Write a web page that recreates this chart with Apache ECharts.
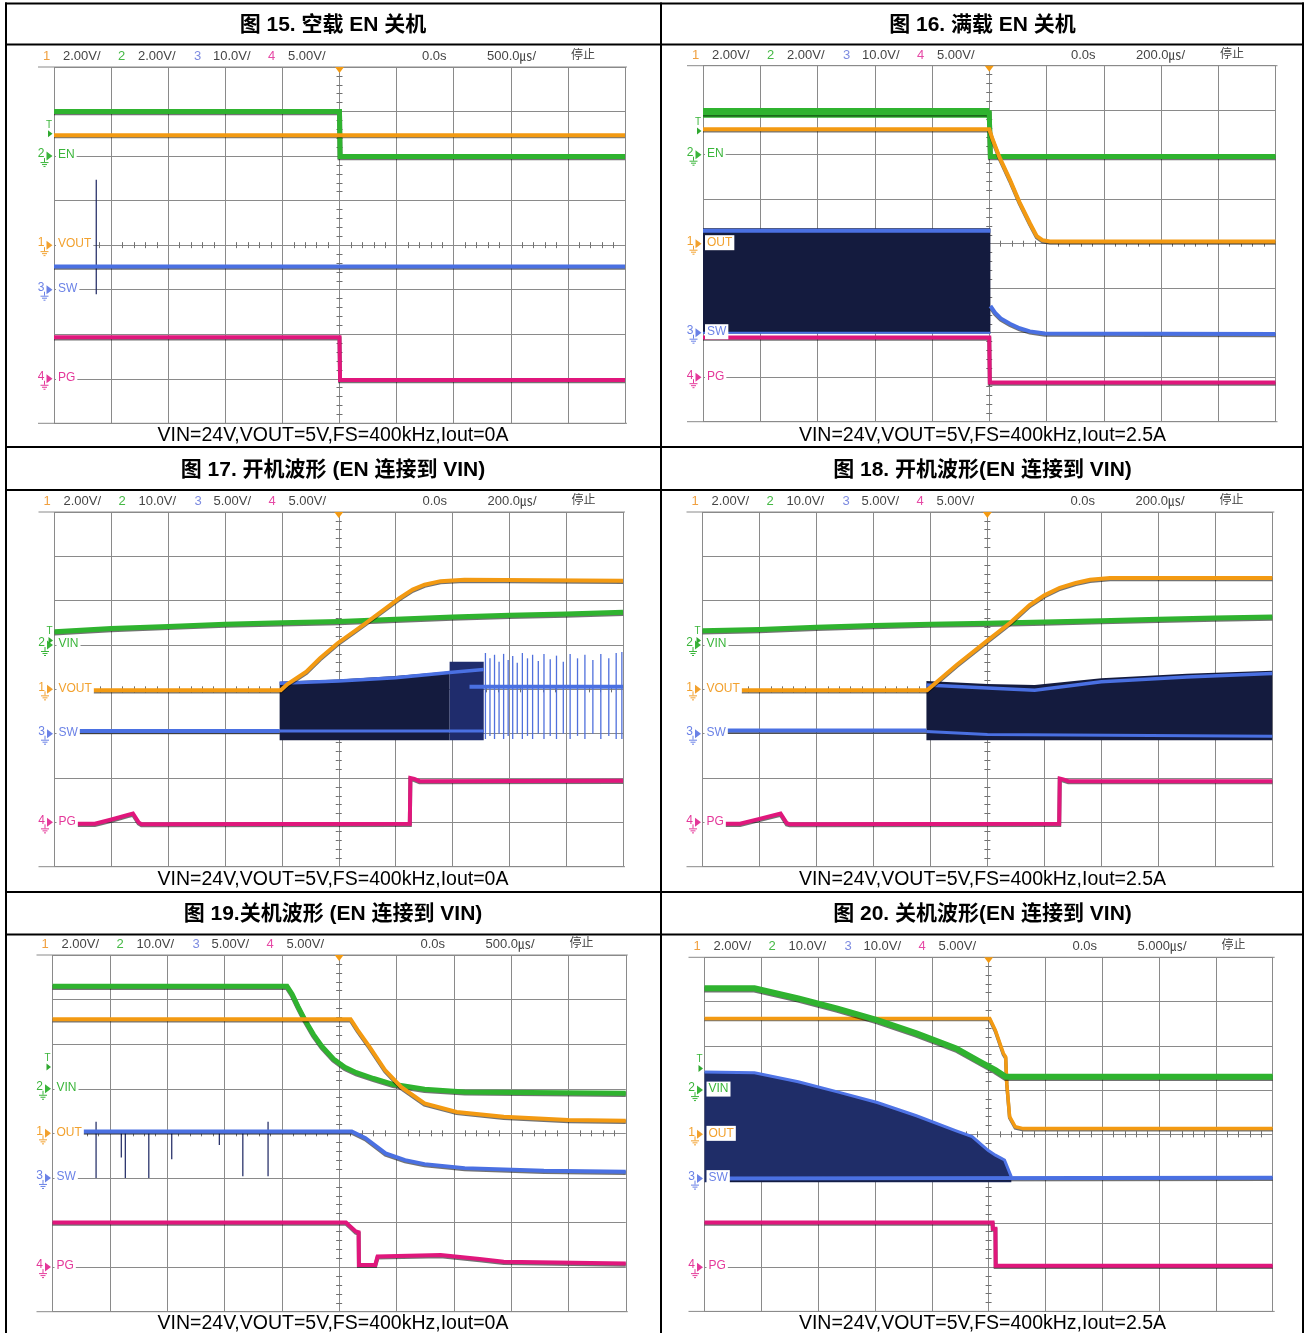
<!DOCTYPE html>
<html><head><meta charset="utf-8">
<script src="https://cdn.jsdelivr.net/npm/echarts@6/dist/echarts.min.js"></script>
<style>html,body{margin:0;padding:0;background:#fff}#c{width:1306px;height:1333px}</style>
</head><body><div id="c"></div>
<script>
// ---------------- text content ----------------
const titles = ['图 15. 空载 EN 关机','图 16. 满载 EN 关机','图 17. 开机波形 (EN 连接到 VIN)','图 18. 开机波形(EN 连接到 VIN)','图 19.关机波形 (EN 连接到 VIN)','图 20. 关机波形(EN 连接到 VIN)'];
const captions = ['VIN=24V,VOUT=5V,FS=400kHz,Iout=0A','VIN=24V,VOUT=5V,FS=400kHz,Iout=2.5A','VIN=24V,VOUT=5V,FS=400kHz,Iout=0A','VIN=24V,VOUT=5V,FS=400kHz,Iout=2.5A','VIN=24V,VOUT=5V,FS=400kHz,Iout=0A','VIN=24V,VOUT=5V,FS=400kHz,Iout=2.5A'];
const chNums = ['1','2','3','4'];
const p15_scale = ['2.00V/','2.00V/','10.0V/','5.00V/'], p15_time = ['0.0s','500.0㎲/','停止'];
const p16_scale = ['2.00V/','2.00V/','10.0V/','5.00V/'], p16_time = ['0.0s','200.0㎲/','停止'];
const p17_scale = ['2.00V/','10.0V/','5.00V/','5.00V/'], p17_time = ['0.0s','200.0㎲/','停止'];
const p18_scale = ['2.00V/','10.0V/','5.00V/','5.00V/'], p18_time = ['0.0s','200.0㎲/','停止'];
const p19_scale = ['2.00V/','10.0V/','5.00V/','5.00V/'], p19_time = ['0.0s','500.0㎲/','停止'];
const p20_scale = ['2.00V/','10.0V/','10.0V/','5.00V/'], p20_time = ['0.0s','5.000㎲/','停止'];

// channel markers (division units, 0 = screen centre)
const p15_markY = [2,0,-1,-3], p15_markT = ['EN','VOUT','SW','PG'], p15_markCh = [2,1,3,4], p15_trigY = 2.5;
const p16_markY = [2,0,-2,-3], p16_markT = ['EN','OUT','SW','PG'], p16_markCh = [2,1,3,4], p16_trigY = 2.53;
const p17_markY = [1,0,-1,-3], p17_markT = ['VIN','VOUT','SW','PG'], p17_markCh = [2,1,3,4], p17_trigY = 1.1;
const p18_markY = [1,0,-1,-3], p18_markT = ['VIN','VOUT','SW','PG'], p18_markCh = [2,1,3,4], p18_trigY = 1.1;
const p19_markY = [1,0,-1,-3], p19_markT = ['VIN','OUT','SW','PG'], p19_markCh = [2,1,3,4], p19_trigY = 1.49;
const p20_markY = [1,0,-1,-3], p20_markT = ['VIN','OUT','SW','PG'], p20_markCh = [2,1,3,4], p20_trigY = 1.49;

// ---------------- waveform data [div x, div y] ----------------
// Fig 15
const p15_en   = [[-5,3.0],[0,3.0],[0.01,1.99],[5,1.99]];
const p15_vout = [[-5,2.47],[5,2.47]];
const p15_sw   = [[-5,-0.48],[5,-0.48]];
const p15_pg   = [[-5,-2.07],[0,-2.07],[0.01,-3.03],[5,-3.03]];
const p15_swSpike = [[-4.26,-1.10,1.47]];
// Fig 16
const p16_enRipple = [[-5,2.83,3.05],[0,2.83,3.05]];
const p16_en   = [[-5,2.94],[0,2.94],[0.02,1.96],[5,1.96]];
const p16_vout = [[-5,2.57],[0,2.57],[0.06,2.34],[0.18,1.94],[0.36,1.44],[0.53,0.93],[0.71,0.46],[0.83,0.17],[0.93,0.08],[1.06,0.05],[5,0.05]];
const p16_band = [[-5,-2.02,0.35],[0.02,-2.02,0.35]];
const p16_swTop = [[-5,0.29],[0.02,0.29]];
const p16_swBot = [[-5,-2.0],[0.02,-2.0]];
const p16_swAfter = [[0.02,-1.40],[0.1,-1.55],[0.2,-1.68],[0.36,-1.80],[0.53,-1.90],[0.71,-1.97],[0.97,-2.02],[5,-2.03]];
const p16_pg   = [[-5,-2.11],[0,-2.11],[0.01,-3.12],[5,-3.12]];
// Fig 17
const p17_vin  = [[-5,1.30],[-4,1.37],[-3,1.42],[-2,1.47],[-1,1.50],[0,1.53],[1,1.58],[2,1.63],[3,1.67],[4,1.70],[5,1.74]];
const p17_vout = [[-4.36,-0.02],[-1.02,-0.02],[-0.9,0.12],[-0.57,0.40],[-0.33,0.70],[-0.02,1.04],[0.47,1.49],[1.06,2.05],[1.3,2.25],[1.51,2.36],[1.79,2.44],[2.21,2.47],[5,2.45]];
const p17_swFlat = [[-4.63,-0.94],[-1.04,-0.94]];
const p17_band  = [[-1.04,-1.15,0.17],[0,-1.15,0.22],[1,-1.15,0.30],[1.95,-1.15,0.40]];
const p17_band2 = [[1.95,-1.15,0.62],[2.55,-1.15,0.62]];
const p17_swTop = [[-1.04,0.14],[0,0.19],[1,0.26],[1.95,0.38],[2.55,0.45]];
const p17_swBot = [[-1.04,-0.94],[2.55,-0.94]];
const p17_swRight = [[2.3,0.06],[5,0.06]];
const p17_spikes = [[2.58,-1.12,0.82],[2.66,-1.05,0.70],[2.74,-1.12,0.78],[2.82,-1.0,0.62],[2.90,-1.12,0.80],[2.98,-1.05,0.66],[3.06,-1.12,0.75],[3.14,-1.0,0.60],[3.23,-1.12,0.82],[3.32,-1.05,0.70],[3.41,-1.12,0.78],[3.51,-1.0,0.64],[3.61,-1.12,0.80],[3.72,-1.05,0.68],[3.83,-1.12,0.76],[3.95,-1.0,0.62],[4.07,-1.12,0.80],[4.20,-1.05,0.70],[4.33,-1.12,0.78],[4.47,-1.0,0.66],[4.61,-1.12,0.80],[4.75,-1.05,0.70],[4.88,-1.12,0.82],[4.98,-1.12,0.84]];
const p17_pg = [[-4.63,-3.03],[-4.29,-3.03],[-3.98,-2.93],[-3.71,-2.83],[-3.62,-2.80],[-3.52,-3.0],[-3.47,-3.04],[1.25,-3.03],[1.26,-2.0],[1.33,-2.02],[1.42,-2.07],[5,-2.06]];
// Fig 18
const p18_vin  = [[-5,1.32],[-4,1.35],[-3,1.40],[-2,1.44],[-1,1.47],[0,1.49],[1,1.52],[2,1.55],[3,1.58],[4,1.61],[5,1.63]];
const p18_vout = [[-4.36,-0.02],[-1.06,-0.02],[-0.95,0.10],[-0.54,0.55],[0.01,1.11],[0.4,1.5],[0.74,1.90],[1.0,2.12],[1.27,2.29],[1.55,2.40],[1.80,2.47],[2.15,2.51],[5,2.51]];
const p18_swFlat = [[-4.63,-0.93],[-1.07,-0.93]];
const p18_band = [[-1.07,-1.15,0.19],[0,-1.15,0.12],[0.83,-1.15,0.10],[2.0,-1.15,0.25],[3.5,-1.15,0.35],[5,-1.15,0.42]];
const p18_swTop = [[-1.07,0.10],[0,0.03],[0.83,-0.02],[2.0,0.17],[3.5,0.28],[5,0.36]];
const p18_swBot = [[-1.07,-0.95],[0,-1.02],[5,-1.06]];
const p18_pg = [[-4.63,-3.03],[-4.34,-3.03],[-4.0,-2.92],[-3.63,-2.80],[-3.52,-3.02],[-3.47,-3.04],[1.26,-3.03],[1.27,-2.01],[1.33,-2.03],[1.42,-2.07],[5,-2.07]];
// Fig 19
const p19_vin  = [[-5,3.30],[-0.91,3.30],[-0.82,3.12],[-0.72,2.85],[-0.60,2.55],[-0.45,2.22],[-0.30,1.95],[-0.1,1.67],[0.1,1.48],[0.3,1.36],[0.6,1.23],[0.94,1.10],[1.49,0.99],[2.19,0.93],[5,0.90]];
const p19_vout = [[-5,2.56],[0.2,2.56],[0.32,2.32],[0.53,1.94],[0.80,1.42],[1.08,1.04],[1.49,0.67],[2.05,0.48],[2.87,0.37],[4,0.30],[5,0.28]];
const p19_sw   = [[-4.5,0.04],[0.22,0.04],[0.46,-0.11],[0.81,-0.45],[1.15,-0.60],[1.49,-0.69],[2.19,-0.78],[3.57,-0.84],[5,-0.86]];
const p19_swSpikes = [[-4.24,-1.0,0.26],[-3.80,-0.54,0.04],[-3.73,-1.0,0.04],[-3.32,-1.0,0.04],[-2.92,-0.58,0.04],[-2.09,-0.26,0.04],[-1.68,-0.96,0.04],[-1.24,-0.96,0.26]];
const p19_pg   = [[-5,-2.0],[0.12,-2.0],[0.18,-2.07],[0.29,-2.2],[0.34,-2.22],[0.345,-2.95],[0.63,-2.95],[0.67,-2.76],[1.77,-2.73],[2.45,-2.82],[2.87,-2.88],[5,-2.92]];
// Fig 20
const p20_vin  = [[-5,3.30],[-4.12,3.30],[-3.35,3.07],[-2.66,2.84],[-1.96,2.58],[-1.27,2.28],[-0.57,1.94],[-0.15,1.64],[0.12,1.45],[0.30,1.30],[5,1.30]];
const p20_vout = [[-5,2.62],[0.02,2.62],[0.12,2.35],[0.26,1.83],[0.30,1.75],[0.32,1.15],[0.37,0.40],[0.47,0.17],[0.61,0.13],[5,0.13]];
const p20_band = [[-5,-1.08,1.41],[-4.12,-1.08,1.39],[-3.35,-1.08,1.19],[-2.66,-1.08,0.96],[-1.96,-1.08,0.72],[-1.27,-1.08,0.42],[-0.57,-1.08,0.08],[-0.29,-1.08,-0.05],[-0.01,-1.08,-0.36],[0.12,-1.08,-0.47],[0.28,-1.08,-0.58],[0.40,-1.08,-0.96]];
const p20_swTop = [[-5,1.41],[-4.12,1.39],[-3.35,1.19],[-2.66,0.96],[-1.96,0.72],[-1.27,0.42],[-0.57,0.08],[-0.29,-0.05],[-0.01,-0.36],[0.12,-0.47],[0.28,-0.58],[0.40,-0.96]];
const p20_swBot = [[-4.66,-1.0],[5,-0.98]];
const p20_pg   = [[-5,-1.99],[0.07,-1.99],[0.075,-2.13],[0.12,-2.13],[0.125,-2.97],[5,-2.97]];

// ---------------- styling / layout ----------------
const ORANGE='#f39a12', GREEN='#2fb32f', BLUE='#4a70e2', PINK='#e0177c';
const CH_TEXT = ['#f2a12e','#3ab53a','#6b82e6','#e4389a'];
const HEAD_NUM = ['#f0a040','#44b844','#7d8be0','#e64aa6'];
const NAVY='#141b3e', NAVY2='#1f2d68', GRIDC='#8a8a8a';
const LAYOUT = [
  {gl:54,   gr:625,    gt:67,    gb:423.3,  head:56,  cap:436,  title:25,  cx:333},
  {gl:703,  gr:1275.5, gt:65.7,  gb:421.7,  head:55,  cap:436,  title:25,  cx:982.5},
  {gl:54.5, gr:623,    gt:512,   gb:866.7,  head:501, cap:880,  title:470, cx:333},
  {gl:702.5,gr:1272.3, gt:512,   gb:866.7,  head:501, cap:880,  title:470, cx:982.5},
  {gl:52.5, gr:625.8,  gt:955,   gb:1311.7, head:944, cap:1324, title:914, cx:333},
  {gl:704.5,gr:1272.7, gt:957.3, gb:1311.4, head:946, cap:1324, title:914, cx:982.5}
];
const HEAD_DX = [-11, 9, 64, 84, 140, 159, 214, 234, 368, 433, 517];
const scales = [p15_scale,p16_scale,p17_scale,p18_scale,p19_scale,p20_scale];
const times  = [p15_time,p16_time,p17_time,p18_time,p19_time,p20_time];
const FONT = '"Liberation Sans", "Noto Sans CJK SC", sans-serif';

// ---------------- axes ----------------
const xAxis=[], yAxis=[], grid=[];
LAYOUT.forEach((L,i)=>{
  grid.push({left:L.gl, top:L.gt, width:L.gr-L.gl, height:L.gb-L.gt, containLabel:false, show:false});
  const bx = {gridIndex:i, type:'value', min:-5, max:5, interval:1, axisLabel:{show:false}, axisTick:{show:false}};
  const by = {gridIndex:i, type:'value', min:-4, max:4, interval:1, axisLabel:{show:false}, axisTick:{show:false}};
  const minor = {show:true, splitNumber:5, length:3, lineStyle:{color:'#707070', width:1}};
  xAxis.push(Object.assign({}, bx, {axisLine:{show:false,onZero:false}, splitLine:{show:true, lineStyle:{color:GRIDC,width:1}}}));
  xAxis.push(Object.assign({}, bx, {position:'bottom', axisLine:{show:false,onZero:true,onZeroAxisIndex:3*i}, splitLine:{show:false}, minorTick:minor}));
  xAxis.push(Object.assign({}, bx, {position:'top', axisLine:{show:false,onZero:true,onZeroAxisIndex:3*i}, splitLine:{show:false}, minorTick:minor}));
  yAxis.push(Object.assign({}, by, {axisLine:{show:false,onZero:false}, splitLine:{show:true, lineStyle:{color:GRIDC,width:1}}}));
  yAxis.push(Object.assign({}, by, {position:'left', axisLine:{show:false,onZero:true,onZeroAxisIndex:3*i}, splitLine:{show:false}, minorTick:minor}));
  yAxis.push(Object.assign({}, by, {position:'right', axisLine:{show:false,onZero:true,onZeroAxisIndex:3*i}, splitLine:{show:false}, minorTick:minor}));
});

// ---------------- series helpers ----------------
const S = [];
const ax = i => ({xAxisIndex:3*i, yAxisIndex:3*i});
function addLine(i, data, color, width, shadow){
  S.push(Object.assign({type:'line', data, symbol:'none', showSymbol:false, silent:true, z:3,
    lineStyle:{color, width, cap:'butt', join:'miter', shadowColor: shadow===false?'rgba(0,0,0,0)':'rgba(0,0,0,0.55)', shadowBlur:0, shadowOffsetY:1.2}}, ax(i)));
}
function addBand(i, band, color){
  S.push(Object.assign({type:'custom', data:band, encode:{x:0,y:[1,2]}, silent:true, z:2,
    renderItem:(params, api)=>{
      if (params.dataIndex!==0) return;
      const top = band.map(d=>api.coord([d[0],d[2]]));
      const bot = band.map(d=>api.coord([d[0],d[1]])).reverse();
      return {type:'polygon', shape:{points:top.concat(bot)}, style:{fill:color}};
    }}, ax(i)));
}
function addSpikes(i, spikes, color, width){
  S.push(Object.assign({type:'custom', data:spikes, encode:{x:0,y:[1,2]}, silent:true, z:3,
    renderItem:(params, api)=>{
      const a=api.coord([api.value(0),api.value(1)]), b=api.coord([api.value(0),api.value(2)]);
      return {type:'line', shape:{x1:a[0],y1:a[1],x2:b[0],y2:b[1]}, style:{stroke:color, lineWidth:width}};
    }}, ax(i)));
}
function markerGroup(x0, y, ch, text){
  const col = CH_TEXT[ch-1];
  const ln = (x1,y1,x2,y2)=>({type:'line', shape:{x1,y1,x2,y2}, style:{stroke:col,lineWidth:1}});
  return {type:'group', children:[
    {type:'text', x:x0-13, y:y-2, style:{text:String(ch), fill:col, font:'12px '+FONT, align:'center', verticalAlign:'middle'}},
    ln(x0-9.5,y+2,x0-9.5,y+6), ln(x0-13.5,y+6.5,x0-5.5,y+6.5), ln(x0-12,y+8.5,x0-7,y+8.5), ln(x0-10.5,y+10.5,x0-8.5,y+10.5),
    {type:'polygon', shape:{points:[[x0-7.5,y-4.5],[x0-1.5,y],[x0-7.5,y+4.5]]}, style:{fill:col}},
    {type:'text', x:x0+2, y:y-1, style:{text, fill:col, font:'12px '+FONT, align:'left', verticalAlign:'middle', backgroundColor:'#fff', padding:[2,2,1,2]}}
  ]};
}
function addMarkers(i, ys, texts, chs, trigY){
  S.push(Object.assign({type:'custom', data:ys.map(y=>[-5,y]), clip:false, silent:true, z:10,
    renderItem:(params, api)=>{
      const k=params.dataIndex, p=api.coord([api.value(0),api.value(1)]);
      return markerGroup(p[0], p[1], chs[k], texts[k]);
    }}, ax(i)));
  S.push(Object.assign({type:'custom', data:[[-5,trigY]], clip:false, silent:true, z:10,
    renderItem:(params, api)=>{
      const p=api.coord([api.value(0),api.value(1)]), t=api.coord([0,4]);
      return {type:'group', children:[
        {type:'text', x:p[0]-5, y:p[1]-9, style:{text:'T', fill:CH_TEXT[1], font:'10px '+FONT, align:'center', verticalAlign:'middle'}},
        {type:'polygon', shape:{points:[[p[0]-6,p[1]-3.5],[p[0]-1.5,p[1]],[p[0]-6,p[1]+3.5]]}, style:{fill:'#2fa82f'}},
        {type:'polygon', shape:{points:[[t[0]-4.5,t[1]],[t[0]+4.5,t[1]],[t[0],t[1]+6]]}, style:{fill:ORANGE}}
      ]};
    }}, ax(i)));
}

// Fig 15
addSpikes(0, p15_swSpike, '#1a2460', 1.2);
addLine(0, p15_sw, BLUE, 4); addLine(0, p15_pg, PINK, 4); addLine(0, p15_en, GREEN, 5); addLine(0, p15_vout, ORANGE, 4);
addMarkers(0, p15_markY, p15_markT, p15_markCh, p15_trigY);
// Fig 16
addBand(1, p16_band, NAVY);
addLine(1, p16_swTop, BLUE, 4, false); addLine(1, p16_swBot, BLUE, 2, false); addLine(1, p16_swAfter, BLUE, 4);
addLine(1, p16_pg, PINK, 4);
addBand(1, p16_enRipple, GREEN); addLine(1, p16_en, GREEN, 5);
addLine(1, p16_vout, ORANGE, 4);
addMarkers(1, p16_markY, p16_markT, p16_markCh, p16_trigY);
// Fig 17
addBand(2, p17_band, NAVY); addBand(2, p17_band2, '#1f2c6c');
addSpikes(2, p17_spikes, '#5070dc', 1.3);
addLine(2, p17_swFlat, BLUE, 4); addLine(2, p17_swBot, BLUE, 3, false); addLine(2, p17_swTop, BLUE, 3.5, false); addLine(2, p17_swRight, BLUE, 4, false);
addLine(2, p17_pg, PINK, 4); addLine(2, p17_vin, GREEN, 5); addLine(2, p17_vout, ORANGE, 4);
addMarkers(2, p17_markY, p17_markT, p17_markCh, p17_trigY);
// Fig 18
addBand(3, p18_band, NAVY);
addLine(3, p18_swFlat, BLUE, 4); addLine(3, p18_swBot, BLUE, 3, false); addLine(3, p18_swTop, BLUE, 3.5, false);
addLine(3, p18_pg, PINK, 4); addLine(3, p18_vin, GREEN, 5); addLine(3, p18_vout, ORANGE, 4);
addMarkers(3, p18_markY, p18_markT, p18_markCh, p18_trigY);
// Fig 19
addSpikes(4, p19_swSpikes, '#1a2460', 1.2);
addLine(4, p19_sw, BLUE, 4); addLine(4, p19_pg, PINK, 4); addLine(4, p19_vin, GREEN, 5); addLine(4, p19_vout, ORANGE, 4);
addMarkers(4, p19_markY, p19_markT, p19_markCh, p19_trigY);
// Fig 20
addBand(5, p20_band, NAVY2);
addLine(5, p20_swTop, '#4f74e6', 3, false); addLine(5, p20_swBot, BLUE, 4);
addLine(5, p20_pg, PINK, 4); addLine(5, p20_vout, ORANGE, 3.5); addLine(5, p20_vin, GREEN, 6);
addMarkers(5, p20_markY, p20_markT, p20_markCh, p20_trigY);

// ---------------- graphic: table, titles, headers, captions ----------------
const G = [];
[6,661,1303].forEach(x=>G.push({type:'line', silent:true, shape:{x1:x,y1:2.5,x2:x,y2:1333}, style:{stroke:'#000',lineWidth:2}}));
[3.5,44.5,447,490,892,934.5].forEach(y=>G.push({type:'line', silent:true, shape:{x1:5,y1:y,x2:1304,y2:y}, style:{stroke:'#000',lineWidth:2}}));
LAYOUT.forEach((L,i)=>{
  G.push({type:'text', silent:true, x:L.cx, y:L.title, style:{text:titles[i], fill:'#000', font:'bold 21px '+FONT, align:'center', verticalAlign:'middle'}});
  G.push({type:'text', silent:true, x:L.cx, y:L.cap, style:{text:captions[i], fill:'#000', font:'19.5px '+FONT, align:'center', verticalAlign:'middle'}});
  [L.gt, L.gb].forEach(y=>G.push({type:'line', silent:true, shape:{x1:L.gl-16,y1:y,x2:L.gr+2,y2:y}, style:{stroke:GRIDC,lineWidth:1}}));
  for (let k=0;k<4;k++){
    G.push({type:'text', silent:true, x:L.gl+HEAD_DX[2*k], y:L.head, style:{text:chNums[k], fill:HEAD_NUM[k], font:'13px '+FONT, align:'left', verticalAlign:'middle'}});
    G.push({type:'text', silent:true, x:L.gl+HEAD_DX[2*k+1], y:L.head, style:{text:scales[i][k], fill:'#444', font:'13px '+FONT, align:'left', verticalAlign:'middle'}});
  }
  for (let k=0;k<3;k++){
    G.push({type:'text', silent:true, x:L.gl+HEAD_DX[8+k], y:L.head, style:{text:times[i][k], fill:'#444', font:(k===2?'12px ':'13px ')+FONT, align:'left', verticalAlign:'middle'}});
  }
});

const chart = echarts.init(document.getElementById('c'));
chart.setOption({animation:false, backgroundColor:'#fff', grid, xAxis, yAxis, series:S, graphic:{elements:G}});
</script></body></html>
